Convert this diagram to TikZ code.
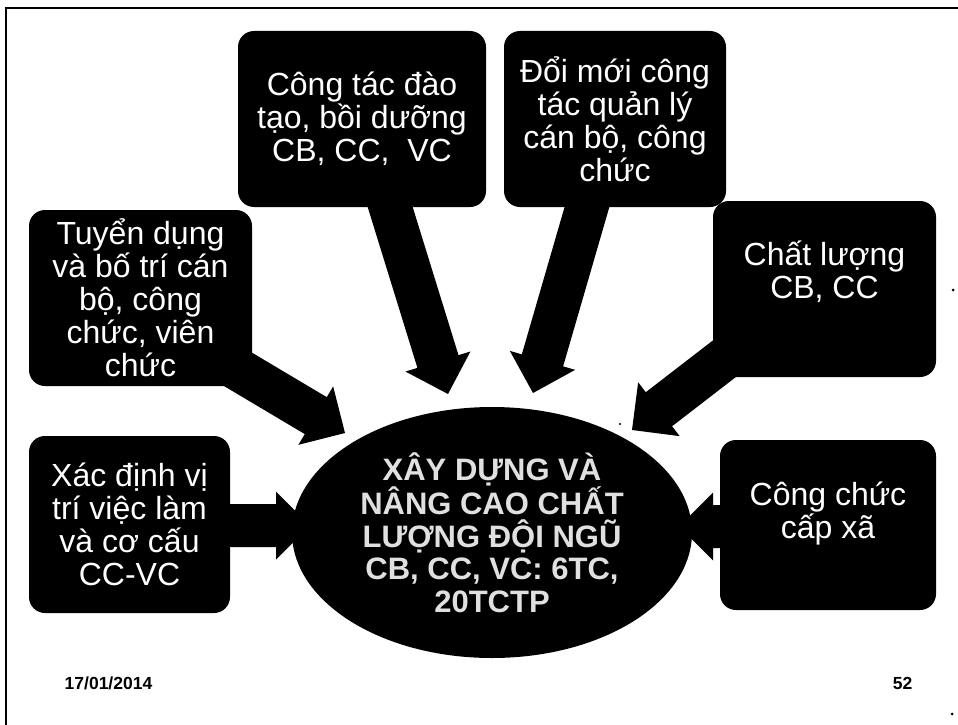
\documentclass[tikz,border=0pt]{standalone}
\usepackage{fontspec}
\setmainfont{Liberation Sans}
\usetikzlibrary{shapes.geometric,calc}
\tikzset{
  box/.style={fill=black, rounded corners=16pt, inner sep=0pt, text=white, align=center,
    font=\fontsize{32}{33}\selectfont},
  boxtext/.style={text=white, align=center, inner sep=0pt, font=\fontsize{32}{33}\selectfont},
  foot/.style={font=\bfseries\fontsize{17.5}{20}\selectfont, inner sep=0pt}
}
% block arrow from #1 (start) to #2 (tip): shaft 43pt wide, head 68pt wide, 34pt long
\newcommand\blockarr[2]{%
  \coordinate (#1-b) at ($(#2)!34pt!(#1)$);
  \fill[black] ($(#1)!21.5pt!90:(#2)$) -- ($(#1-b)!21.5pt!-90:(#1)$)
    -- ($(#1-b)!34pt!-90:(#1)$) -- (#2) -- ($(#1-b)!34pt!90:(#1)$)
    -- ($(#1-b)!21.5pt!90:(#1)$) -- ($(#1)!21.5pt!-90:(#2)$) -- cycle;}
\begin{document}
\begin{tikzpicture}[x=1pt,y=-1pt]
\useasboundingbox (0,0) rectangle (958,725);
\fill[white] (0,0) rectangle (958,725);
% frame
\draw[line width=2.5pt] (958,8) -- (6,8) -- (6,725);

% boxes
\node[box, minimum width=248pt, minimum height=176pt] (b1) at (362,119)
  {Công tác đào\\tạo, bồi dưỡng\\CB, CC, \ VC};
\node[box, minimum width=222pt, minimum height=176pt] (b2) at (615,119)
  {Đổi mới công\\tác quản lý\\cán bộ, công\\chức};
\node[box, minimum width=223pt, minimum height=176pt] (b3) at (140.5,298)
  {Tuyển dụng\\và bố trí cán\\bộ, công\\chức, viên\\chức};
\node[box, minimum width=223pt, minimum height=176pt] (b4) at (824.5,289) {};
\node[boxtext] (t4) at (824.5,272) {Chất lượng\\CB, CC};
\node[box, minimum width=201pt, minimum height=177pt] (b5) at (129.5,524.5)
  {Xác định vị\\trí việc làm\\và cơ cấu\\CC-VC};
\node[box, minimum width=216pt, minimum height=170pt] (b6) at (828,525) {};
\node[boxtext] (t6) at (828,514) {Công chức\\cấp xã};

% arrow coordinates
\coordinate (a1s) at (388,200);  \coordinate (a1e) at (448,394);
\coordinate (a2s) at (589,200);  \coordinate (a2e) at (533,393);
\coordinate (a3s) at (229,364);  \coordinate (a3e) at (345,433);
\coordinate (a4s) at (737,349);  \coordinate (a4e) at (632,430);
\coordinate (a5s) at (222,525.5); \coordinate (a5e) at (310,525.5);
\coordinate (a6s) at (728,526.5); \coordinate (a6e) at (679,526.5);

\blockarr{a1s}{a1e}
\blockarr{a2s}{a2e}
\blockarr{a3s}{a3e}
\blockarr{a4s}{a4e}
\blockarr{a5s}{a5e}
\blockarr{a6s}{a6e}

% central ellipse
\node[ellipse, fill=black, inner sep=0pt, minimum width=400pt, minimum height=251pt,
  text=black!12, align=center, font=\bfseries\fontsize{31}{32.7}\selectfont] (el) at (492,532.5)
  {XÂY DỰNG VÀ\\NÂNG CAO CHẤT\\LƯỢNG ĐỘI NGŨ\\CB, CC, VC: 6TC,\\20TCTP};

% footer
\node[foot] (date) at (108.5,683) {17/01/2014};
\node[foot] (num) at (902.5,683) {52};

% stray marks
\fill (953,290) circle (1.5);
\fill (620,424) circle (1.2);
\fill (952,714) circle (1.5);
\end{tikzpicture}
\end{document}
